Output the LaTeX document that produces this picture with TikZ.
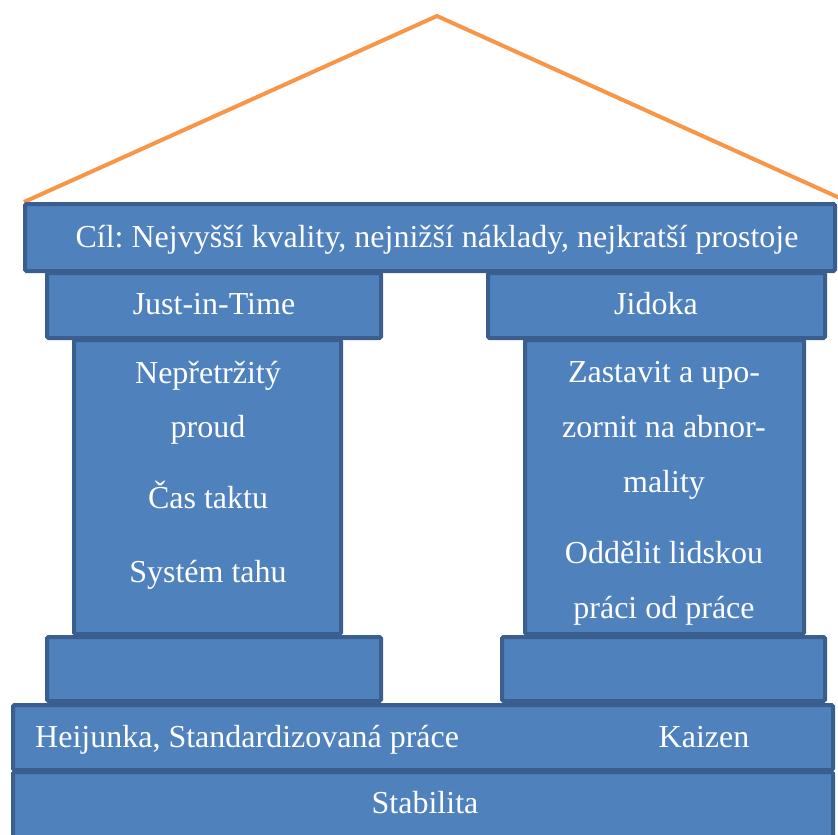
\documentclass[tikz,border=0pt]{standalone}
\usepackage{fontspec}
\setmainfont{Liberation Serif}
\frenchspacing
\definecolor{blkfill}{HTML}{4F81BD}
\definecolor{blkline}{HTML}{3A5F8E}
\definecolor{roofc}{HTML}{F79646}
\tikzset{
  blk/.style={draw=blkline, fill=blkfill, line width=4pt, rounded corners=1.5pt},
  txt/.style={text=white, anchor=base, inner sep=0pt, font=\fontsize{32}{38}\selectfont},
  roofline/.style={draw=roofc, line width=4pt, line join=miter}
}
\newcommand{\blkbox}[5]{\path[blk] (#2,#3) rectangle (#4,#5) coordinate (#1);}
\begin{document}
\begin{tikzpicture}[x=1pt,y=-1pt]
\useasboundingbox (0,0) rectangle (838,835);
\clip (0,0) rectangle (838,835);
% roof
\coordinate (rl) at (24,202);
\coordinate (rt) at (437,16);
\coordinate (rr) at (842,199);
\draw[roofline] (rl) -- (rt) -- (rr);
% columns
\blkbox{lcol}{74}{340}{341}{634}
\blkbox{rcol}{525}{340}{804}{634}
% capitals
\blkbox{jit}{47}{273}{381}{338}
\blkbox{jid}{488}{273}{825}{338}
% bases
\blkbox{lbase}{47}{637}{381}{701}
\blkbox{rbase}{502}{637}{825}{701}
% goal
\blkbox{goal}{25}{204}{835}{271}
% foundations
\blkbox{heij}{13}{705}{833}{770}
\blkbox{stab}{13}{772}{833}{845}
% texts
\node[txt] (tgoal) at (437,247) {Cíl: Nejvyšší kvality, nejnižší náklady, nejkratší prostoje};
\node[txt] (tjit) at (214,314) {Just-in-Time};
\node[txt] (tjid) at (656,314) {Jidoka};
\node[txt] (l1) at (208,383) {Nepřetržitý};
\node[txt] (l2) at (208,437) {proud};
\node[txt] (l3) at (208,508) {Čas taktu};
\node[txt] (l4) at (208,582) {Systém tahu};
\node[txt] (r1) at (664,382) {Zastavit a upo-};
\node[txt] (r2) at (664,437) {zornit na abnor-};
\node[txt] (r3) at (664,492) {mality};
\node[txt] (r4) at (664,563) {Oddělit lidskou};
\node[txt] (r5) at (664,618) {práci od práce};
\node[txt, anchor=base west] (theij) at (35,747) {Heijunka, Standardizovaná práce};
\node[txt] (tkai) at (704,747) {Kaizen};
\node[txt] (tstab) at (425,813) {Stabilita};
\end{tikzpicture}
\end{document}
